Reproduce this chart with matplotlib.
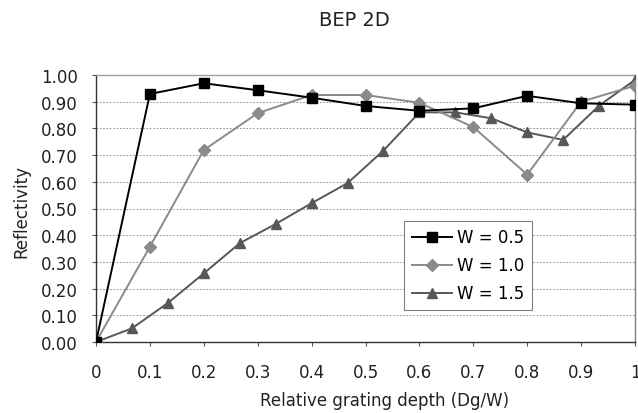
import matplotlib
matplotlib.use("Agg")
import matplotlib.pyplot as plt
import numpy as np

plt.rcParams['font.family'] = ['DejaVu Sans']

title = "BEP 2D"
x_label = "Relative grating depth (Dg/W)"
y_label = "Reflectivity"

x_w05 = [0, 0.1, 0.2, 0.3, 0.4, 0.5, 0.6, 0.7, 0.8, 0.9, 1.0]
y_w05 = [0.0, 0.929, 0.969, 0.943, 0.915, 0.884, 0.866, 0.875, 0.922, 0.894, 0.889]

x_w10 = [0, 0.1, 0.2, 0.3, 0.4, 0.5, 0.6, 0.7, 0.8, 0.9, 1.0]
y_w10 = [0.0, 0.357, 0.719, 0.857, 0.925, 0.925, 0.896, 0.805, 0.627, 0.900, 0.960]

x_w15 = [0, 1/15, 2/15, 3/15, 4/15, 5/15, 6/15, 7/15, 8/15, 9/15, 10/15, 11/15, 12/15, 13/15, 14/15, 1.0]
y_w15 = [0.0, 0.051, 0.146, 0.257, 0.370, 0.442, 0.520, 0.595, 0.717, 0.860, 0.860, 0.838, 0.785, 0.757, 0.885, 0.982]

labels = ["W = 0.5", "W = 1.0", "W = 1.5"]
x_ticks = [0, 0.1, 0.2, 0.3, 0.4, 0.5, 0.6, 0.7, 0.8, 0.9, 1.0]
x_tick_labels = ["0", "0.1", "0.2", "0.3", "0.4", "0.5", "0.6", "0.7", "0.8", "0.9", "1"]
y_ticks = [0.0, 0.1, 0.2, 0.3, 0.4, 0.5, 0.6, 0.7, 0.8, 0.9, 1.0]

FS = 12
TXT = '#222222'

fig = plt.figure(figsize=(6.38, 4.14), dpi=100)
ax = fig.add_axes([96/638, 71/414, 539/638, 267/414])

ax.plot(x_w05, y_w05, color='#000000', marker='s', markersize=7, linewidth=1.4,
        label=labels[0], zorder=5)
ax.plot(x_w10, y_w10, color='#8a8a8a', marker='D', markersize=6, linewidth=1.4,
        label=labels[1], zorder=4)
ax.plot(x_w15, y_w15, color='#575757', marker='^', markersize=7.5, linewidth=1.4,
        label=labels[2], zorder=3)

ax.set_xlim(0, 1)
ax.set_ylim(0, 1)
ax.set_xticks(x_ticks)
ax.set_xticklabels(x_tick_labels)
ax.set_yticks(y_ticks)
ax.set_yticklabels([f"{v:.2f}" for v in y_ticks])

ax.grid(axis='y', color='#808080', linestyle=(0, (2, 2)), linewidth=0.6)
ax.set_axisbelow(True)

ax.spines['left'].set_color('#333333')
ax.spines['bottom'].set_color('#333333')
ax.spines['top'].set_color('#a0a0a0')
ax.spines['right'].set_color('#808080')
for s in ax.spines.values():
    s.set_linewidth(1.0)

ax.tick_params(axis='x', direction='out', length=3, width=0.8, color='#555555',
               pad=12, labelsize=FS, labelcolor=TXT)
ax.tick_params(axis='y', direction='out', length=3, width=0.8, color='#555555',
               pad=10, labelsize=FS, labelcolor=TXT)

fig.text(385/638, (414-406.5)/414, x_label, ha='center', va='baseline',
         fontsize=FS, color=TXT)
fig.text(21/638, 211/414 * 0 + (414-211)/414, y_label, ha='center', va='center',
         rotation=90, fontsize=FS, color=TXT)
fig.text(354.5/638, (414-26)/414, title, ha='center', va='baseline',
         fontsize=14, color=TXT)

leg = ax.legend(loc='lower left', bbox_to_anchor=((404-96)/539, (343-311)/267),
                fontsize=FS, frameon=True, fancybox=False, edgecolor='#808080',
                framealpha=1, handlelength=2.4, handletextpad=0.35,
                labelspacing=0.6, borderpad=0.45, borderaxespad=0)
leg.get_frame().set_linewidth(0.8)

fig.savefig("out.png", dpi=100)
